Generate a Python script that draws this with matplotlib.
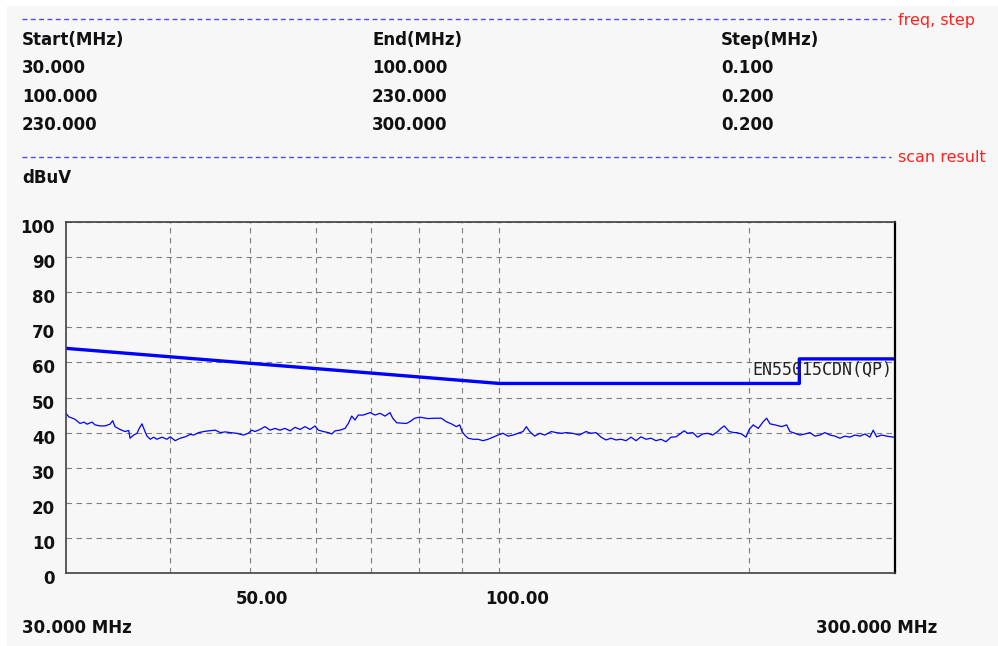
import matplotlib.pyplot as plt
import matplotlib.transforms as mtransforms
from matplotlib.lines import Line2D
from matplotlib.ticker import NullLocator

# scan result (MHz, dBuV)
freq = [30.00, 30.23, 30.76, 31.19, 31.54, 31.80, 32.25, 32.52, 32.97, 33.43,
        33.90, 34.16, 34.37, 34.85, 35.34, 35.71, 35.84, 36.20, 36.54, 36.77,
        37.05, 37.33, 37.57, 37.91, 38.27, 38.62, 39.16, 39.71, 40.07, 40.63,
        41.20, 41.78, 42.37, 42.77, 43.37, 43.97, 44.59, 45.41, 46.05, 46.69,
        47.35, 48.20, 49.09, 49.77, 50.25, 50.71, 51.42, 52.14, 52.87, 53.61,
        54.36, 55.12, 55.89, 56.67, 57.47, 58.27, 59.08, 59.91, 60.46, 61.31,
        62.17, 62.76, 63.33, 64.22, 65.12, 65.72, 66.34, 66.95, 67.57, 68.51,
        69.80, 70.78, 71.77, 72.77, 73.79, 74.34, 75.17, 77.21, 77.94, 79.03,
        80.13, 82.00, 83.54, 85.09, 86.28, 87.49, 88.71, 89.55, 90.13, 90.80,
        91.64, 92.92, 94.22, 95.54, 96.87, 98.23, 99.60, 100.99, 102.40, 103.84,
        105.29, 106.76, 107.74, 108.77, 110.29, 111.83, 113.39, 115.49, 117.11, 118.74,
        120.40, 122.56, 124.83, 127.18, 128.96, 130.76, 132.59, 134.44, 136.32, 138.22,
        140.15, 142.11, 144.10, 146.11, 148.15, 150.22, 152.32, 154.45, 156.61, 158.80,
        161.02, 163.27, 165.55, 167.08, 168.66, 171.02, 173.41, 175.83, 178.29, 180.78,
        183.31, 185.00, 186.70, 189.31, 191.95, 193.24, 195.94, 198.29, 200.12, 202.35,
        205.18, 208.05, 210.02, 211.96, 214.92, 218.96, 222.02, 224.07, 227.20, 230.38,
        233.60, 236.86, 240.17, 243.53, 246.93, 250.38, 253.88, 257.43, 261.03, 264.68,
        268.38, 272.13, 275.94, 279.79, 282.37, 285.05, 289.03, 293.07, 298.59, 300.00]
level = [45.5, 44.5, 43.8, 42.6, 43.0, 42.4, 43.0, 42.2, 41.9, 41.9,
         42.4, 43.4, 41.7, 40.9, 40.3, 40.6, 38.4, 39.3, 39.8, 41.2,
         42.5, 40.5, 39.0, 38.1, 38.7, 38.1, 38.7, 38.1, 38.8, 37.7,
         38.4, 38.8, 39.5, 39.3, 40.0, 40.3, 40.5, 40.7, 40.0, 40.2,
         40.0, 39.8, 39.3, 39.8, 40.7, 40.3, 40.9, 41.7, 40.7, 41.2,
         40.7, 41.2, 40.5, 41.5, 40.9, 41.7, 40.9, 41.9, 40.7, 40.3,
         40.0, 39.6, 40.5, 40.7, 41.2, 42.6, 44.7, 43.6, 45.0, 45.0,
         45.7, 45.0, 45.5, 44.7, 45.7, 44.1, 42.8, 42.6, 43.1, 44.1,
         44.4, 44.0, 44.1, 44.1, 43.1, 42.5, 41.7, 42.2, 40.3, 39.3,
         38.4, 38.1, 38.1, 37.7, 38.1, 38.7, 39.3, 39.8, 39.0, 39.3,
         39.8, 40.3, 41.7, 40.3, 39.0, 39.8, 39.3, 40.3, 40.0, 39.8,
         40.0, 39.8, 39.3, 40.3, 39.8, 40.0, 38.7, 37.9, 38.4, 37.9,
         38.1, 37.7, 38.7, 37.7, 38.8, 38.1, 38.4, 37.7, 38.1, 37.4,
         38.7, 38.8, 39.8, 40.5, 39.8, 40.0, 38.7, 39.6, 39.8, 39.3,
         40.3, 41.2, 41.9, 40.3, 40.0, 40.0, 39.6, 38.7, 40.9, 42.2,
         41.2, 43.1, 44.1, 42.5, 42.2, 41.7, 42.2, 40.3, 39.8, 39.3,
         39.6, 40.0, 39.0, 39.3, 40.0, 39.3, 39.0, 38.4, 39.0, 38.7,
         39.3, 39.0, 39.6, 38.7, 40.7, 38.8, 39.3, 39.0, 38.7, 38.8]

# EN55015 CDN (QP) limit
limit_freq = [30, 100, 230, 230, 300]
limit_level = [64, 54, 54, 61, 61]

start_mhz = ["30.000", "100.000", "230.000"]
end_mhz = ["100.000", "230.000", "300.000"]
step_mhz = ["0.100", "0.200", "0.200"]

y_ticks = list(range(0, 101, 10))
grid_freq = [40, 50, 60, 70, 80, 90, 100, 200]
x_label_freq = [50, 100]
x_labels = ["50.00", "100.00"]

W, H = 998, 646
fig = plt.figure(figsize=(W / 100, H / 100), dpi=100)
fig.patch.set_facecolor("white")
fig.patches.append(plt.Rectangle((7 / W, 0), 1, 1 - 6 / H, transform=fig.transFigure,
                                 facecolor="#f7f7f7", edgecolor="none", zorder=-10))


def fx(x):
    return x / W


def fy(y):
    return 1 - y / H


bold = dict(fontsize=12, fontweight="bold", color="#111111", family="DejaVu Sans")

# header block
for yy, name in [(19, "freq, step"), (157, "scan result")]:
    fig.add_artist(Line2D([fx(22), fx(891)], [fy(yy), fy(yy)], transform=fig.transFigure,
                          color="#4a4aff", linewidth=1.0, linestyle=(0, (3.5, 2.5))))
    fig.text(fx(898), fy(yy + 1), name, color="#ff2020", fontsize=11.5, va="center")

col_x = [22, 372, 721]
fig.text(fx(col_x[0]), fy(40), "Start(MHz)", va="center", **bold)
fig.text(fx(col_x[1]), fy(40), "End(MHz)", va="center", **bold)
fig.text(fx(col_x[2]), fy(40), "Step(MHz)", va="center", **bold)
for i in range(3):
    yy = 68 + i * 28.5
    fig.text(fx(col_x[0]), fy(yy), start_mhz[i], va="center", **bold)
    fig.text(fx(col_x[1]), fy(yy), end_mhz[i], va="center", **bold)
    fig.text(fx(col_x[2]), fy(yy), step_mhz[i], va="center", **bold)
fig.text(fx(22), fy(178), "dBuV", va="center", **bold)

# plot area
ax = fig.add_axes([66 / W, 1 - 573 / H, 829 / W, 351 / H])
ax.set_facecolor("#f7f7f7")
ax.set_xscale("log")
ax.set_xlim(30, 300)
ax.set_ylim(0, 100)
ax.set_xticks(grid_freq)
ax.set_xticklabels([])
ax.xaxis.set_minor_locator(NullLocator())
ax.set_yticks(y_ticks)
ax.set_yticklabels([str(v) for v in y_ticks], **bold)
ax.tick_params(length=0, pad=8)
shift = mtransforms.ScaledTranslation(0, -4 / 100, fig.dpi_scale_trans)
for lab in ax.get_yticklabels():
    lab.set_transform(lab.get_transform() + shift)
ax.grid(True, color="#808080", linestyle=(0, (5, 4)), linewidth=0.8)
for side in ["left", "top", "bottom"]:
    ax.spines[side].set_color("#404040")
    ax.spines[side].set_linewidth(1.2)
ax.spines["right"].set_color("black")
ax.spines["right"].set_linewidth(1.6)

ax.plot(freq, level, color="#0000ff", linewidth=0.9)
ax.plot(limit_freq, limit_level, color="#0000ff", linewidth=2.4)
ax.text(202, 57.8, "EN55015CDN(QP)", family="DejaVu Sans Mono", fontsize=12,
        color="#222222", va="center", ha="left")

lab_off = mtransforms.ScaledTranslation(-14 / 100, -26 / 100, fig.dpi_scale_trans)
for f, t in zip(x_label_freq, x_labels):
    ax.text(f, 0, t, transform=ax.get_xaxis_transform() + lab_off,
            ha="left", va="center", **bold)

fig.text(fx(22), fy(628), "30.000 MHz", va="center", **bold)
fig.text(fx(816), fy(628), "300.000 MHz", va="center", **bold)

fig.savefig("out.png", dpi=100, facecolor=fig.get_facecolor())
